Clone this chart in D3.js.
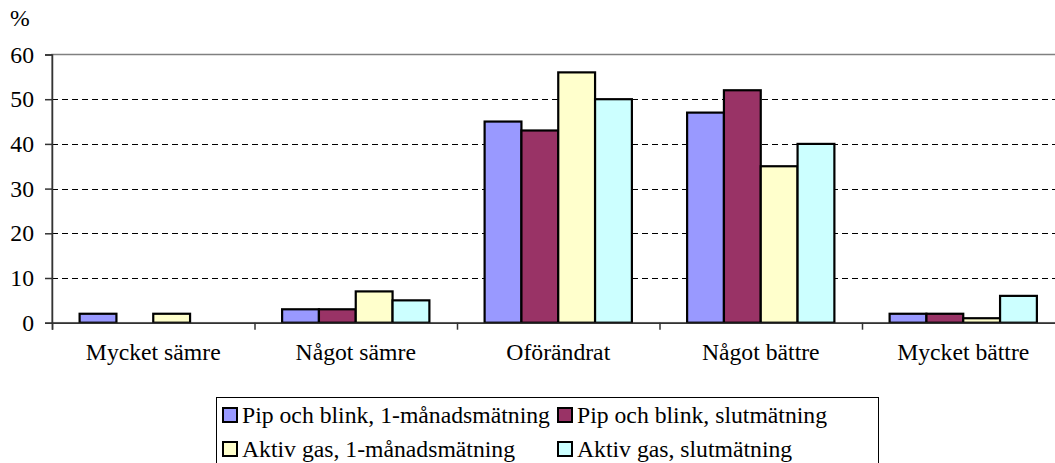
<!DOCTYPE html>
<html>
<head>
<meta charset="utf-8">
<script src="https://cdn.jsdelivr.net/npm/d3@7"></script>
<style>
  html, body { margin: 0; padding: 0; background: #fff; overflow: hidden; }
  svg { display: block; }
</style>
</head>
<body>
<svg id="chart" width="1055" height="463"></svg>
<script>
const categories = ["Mycket sämre", "Något sämre", "Oförändrat", "Något bättre", "Mycket bättre"];
const seriesNames = ["Pip och blink, 1-månadsmätning", "Pip och blink, slutmätning", "Aktiv gas, 1-månadsmätning", "Aktiv gas, slutmätning"];
const pipMonth = [2, 3, 45, 47, 2];
const pipFinal = [0, 3, 43, 52, 2];
const gasMonth = [2, 7, 56, 35, 1];
const gasFinal = [0, 5, 50, 40, 6];
const yTicks = [0, 10, 20, 30, 40, 50, 60];
const colors = ["#9999FF", "#993366", "#FFFFCC", "#CCFFFF"];

const seriesValues = [pipMonth, pipFinal, gasMonth, gasFinal];

const FONT = "'Liberation Serif', 'DejaVu Serif', serif";
const svg = d3.select("#chart").style("font-family", FONT);
const plotL = 52, plotR = 1064.5, plotT = 54.5, plotB = 322.7;
const fontSize = 23.7;

const x = d3.scaleBand().domain(categories).range([plotL, plotR]).paddingInner(0).paddingOuter(0);
const y = d3.scaleLinear().domain([0, 60]).range([plotB, plotT]);
const barW = x.bandwidth() / 5.5;
const xs = d3.scaleBand().domain(d3.range(4)).range([0, barW * 4]);
const groupOffset = (x.bandwidth() - barW * 4) / 2;

// plot border (gray)
svg.append("rect").attr("x", plotL).attr("y", plotT).attr("width", plotR - plotL).attr("height", plotB - plotT)
  .attr("fill", "none").attr("stroke", "#808080").attr("stroke-width", 1.5);

// dashed gridlines
svg.append("g").selectAll("line").data(yTicks.filter(t => t > 0 && t < 60)).join("line")
  .attr("x1", plotL).attr("x2", plotR)
  .attr("y1", d => Math.round(y(d)) + 0.5).attr("y2", d => Math.round(y(d)) + 0.5)
  .attr("stroke", "#000").attr("stroke-width", 1).attr("stroke-dasharray", "6,4");

// bars
const groups = svg.append("g").selectAll("g").data(seriesValues).join("g")
  .attr("fill", (d, i) => colors[i]);
groups.each(function(vals, si) {
  d3.select(this).selectAll("rect").data(vals.map((v, ci) => ({v, c: categories[ci]})).filter(d => d.v > 0)).join("rect")
    .attr("x", d => x(d.c) + groupOffset + xs(si))
    .attr("y", d => y(d.v))
    .attr("width", barW)
    .attr("height", d => y(0) - y(d.v))
    .attr("stroke", "#000").attr("stroke-width", 2.2);
});

// y axis
const yAxis = d3.axisLeft(y).tickValues(yTicks).tickSize(7).tickPadding(11).tickFormat(d3.format("d"));
const gy = svg.append("g").attr("transform", `translate(${plotL},0)`).call(yAxis)
  .attr("font-family", null).attr("font-size", fontSize);
gy.select(".domain").attr("stroke", "#333").attr("stroke-width", 1.5);
gy.selectAll(".tick line").attr("stroke", "#333").attr("stroke-width", 1.5);
gy.selectAll(".tick text").style("font-family", FONT).attr("fill", "#000");

// x axis
const xTickScale = d3.scalePoint().domain(d3.range(categories.length + 1)).range([plotL, plotR]);
const gxTicks = svg.append("g").attr("transform", `translate(0,${plotB})`)
  .call(d3.axisBottom(xTickScale).tickSize(7).tickFormat(""));
gxTicks.select(".domain").attr("stroke", "#333").attr("stroke-width", 1.5);
gxTicks.selectAll(".tick line").attr("stroke", "#333").attr("stroke-width", 1.5);

const gx = svg.append("g").attr("transform", `translate(0,${plotB})`)
  .call(d3.axisBottom(x).tickSize(0).tickPadding(20))
  .attr("font-family", null).attr("font-size", fontSize);
gx.select(".domain").remove();
gx.selectAll(".tick text").style("font-family", FONT).attr("fill", "#000");

// % label
svg.append("text").attr("x", 10).attr("y", 26).attr("font-size", fontSize).style("font-family", FONT).text("%");

// legend
const lg = svg.append("g");
lg.append("rect").attr("x", 216.5).attr("y", 397.5).attr("width", 662).attr("height", 90)
  .attr("fill", "#fff").attr("stroke", "#000").attr("stroke-width", 1);
const legendPos = [[223, 408], [558, 408], [223, 442], [558, 442]];
const items = lg.selectAll("g.item").data(seriesNames).join("g").attr("class", "item")
  .attr("transform", (d, i) => `translate(${legendPos[i][0]},${legendPos[i][1]})`);
items.append("rect").attr("x", 0).attr("y", 0).attr("width", 14).attr("height", 14)
  .attr("fill", (d, i) => colors[i]).attr("stroke", "#000").attr("stroke-width", 2);
items.append("text").attr("x", 19).attr("y", 15).attr("font-size", fontSize).style("font-family", FONT).text(d => d);
</script>
</body>
</html>
